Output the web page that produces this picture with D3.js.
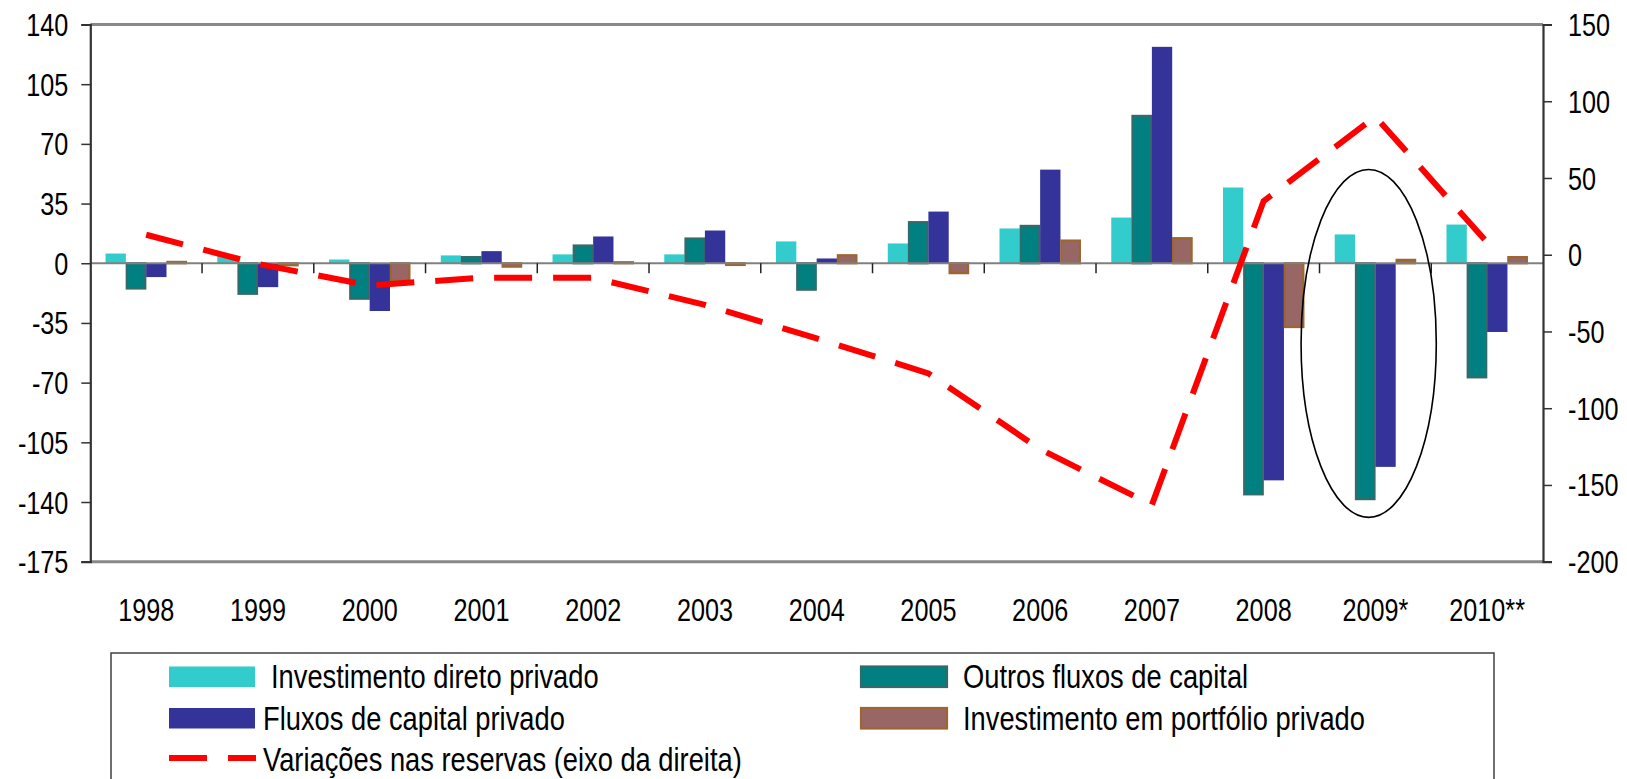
<!DOCTYPE html>
<html><head><meta charset="utf-8">
<script src="https://cdn.jsdelivr.net/npm/d3@7"></script>
<style>
html,body{margin:0;padding:0;background:#fff;}
svg text{font-family:"Liberation Sans",Arial,sans-serif;fill:#000;}
</style></head>
<body>
<svg id="chart" width="1627" height="779"></svg>
<script>
const categories = ["1998","1999","2000","2001","2002","2003","2004","2005","2006","2007","2008","2009*","2010**"];
const investimentoDireto = [5.7, 4.2, 2.2, 4.6, 5.2, 5.2, 12.8, 11.6, 20.4, 26.8, 44.4, 16.9, 22.7];
const outrosFluxos = [-14.8, -17.9, -20.8, 3.6, 10.4, 14.5, -15.5, 24.1, 21.9, 86.4, -135.5, -138.3, -66.9];
const fluxosPrivado = [-8.1, -14, -28, 7.1, 15.7, 19.2, 2.8, 30.3, 54.9, 126.9, -127.3, -119.4, -40.3];
const portfolioPrivado = [0.8, -1.2, -10.3, -2, 0.6, -1, 4.7, -5.8, 13.3, 14.7, -37.4, 2, 3.6];
const reservas = [13, -6, -20, -15, -15, -32.7, -54.5, -77.3, -126.7, -163, 35, 90, 8];
const leftTicks = [140, 105, 70, 35, 0, -35, -70, -105, -140, -175];
const rightTicks = [150, 100, 50, 0, -50, -100, -150, -200];
const seriesNames = ["Investimento direto privado","Outros fluxos de capital","Fluxos de capital privado","Investimento em portfólio privado","Variações nas reservas (eixo da direita)"];

const barSeries = [
  {name: seriesNames[0], values: investimentoDireto, fill: "#33CCCC", stroke: null},
  {name: seriesNames[1], values: outrosFluxos, fill: "#008080", stroke: "#336B6B"},
  {name: seriesNames[2], values: fluxosPrivado, fill: "#333399", stroke: null},
  {name: seriesNames[3], values: portfolioPrivado, fill: "#996666", stroke: "#9C6630"}
];

const svg = d3.select("#chart");
const L = 90.3, R = 1543, T = 24.5, B = 561.7;
const SX = 0.8;
const fmt = d => String(d);

const x = d3.scaleBand().domain(categories).range([L, R]).padding(0);
const yL = d3.scaleLinear().domain([-175, 140]).range([B, T]);
const yR = d3.scaleLinear().domain([-200, 150]).range([B, T]);
const bw = x.bandwidth();
const barW = bw / 5.5;
const off = (bw - 4 * barW) / 2;

// bars
barSeries.forEach((s, si) => {
  svg.append("g").selectAll("rect").data(s.values).join("rect")
    .attr("x", (d, i) => x(categories[i]) + off + si * barW + (s.stroke ? 0.9 : 0))
    .attr("width", barW - (s.stroke ? 1.8 : 0))
    .attr("y", d => Math.min(yL(d), yL(0)))
    .attr("height", d => Math.max(0.8, Math.abs(yL(d) - yL(0))))
    .attr("fill", s.fill)
    .attr("stroke", s.stroke || "none")
    .attr("stroke-width", s.stroke ? 2.2 : 0);
});

// zero line and category ticks
svg.append("line").attr("x1", L).attr("x2", R).attr("y1", yL(0)).attr("y2", yL(0))
  .attr("stroke", "#808080").attr("stroke-width", 2);
svg.append("g").selectAll("line").data(categories.slice(1)).join("line")
  .attr("x1", d => x(d)).attr("x2", d => x(d))
  .attr("y1", yL(0)).attr("y2", yL(0) + 10)
  .attr("stroke", "#222").attr("stroke-width", 1.5);

// top/bottom borders
[T, B].forEach(yy => svg.append("line").attr("x1", L).attr("x2", R).attr("y1", yy).attr("y2", yy)
  .attr("stroke", "#888").attr("stroke-width", 3));

// left axis
const gL = svg.append("g").attr("transform", `translate(${L},0)`)
  .call(d3.axisLeft(yL).tickValues(leftTicks).tickSize(9).tickFormat(fmt));
gL.select(".domain").attr("stroke", "#333").attr("stroke-width", 2.2);
gL.selectAll(".tick line").attr("stroke", "#333").attr("stroke-width", 1.5);
gL.selectAll(".tick text").attr("font-size", 31.5).attr("font-family", "Liberation Sans, Arial, sans-serif")
  .attr("x", -22 / SX).attr("dy", "0.35em").attr("transform", `scale(${SX},1)`);

// right axis
const gR = svg.append("g").attr("transform", `translate(${R},0)`)
  .call(d3.axisRight(yR).tickValues(rightTicks).tickSize(9).tickFormat(fmt));
gR.select(".domain").attr("stroke", "#333").attr("stroke-width", 2.2);
gR.selectAll(".tick line").attr("stroke", "#333").attr("stroke-width", 1.5);
gR.selectAll(".tick text").attr("font-size", 31.5).attr("font-family", "Liberation Sans, Arial, sans-serif")
  .attr("x", 25 / SX).attr("dy", "0.35em").attr("transform", `scale(${SX},1)`);

// category labels
svg.append("g").selectAll("text").data(categories).join("text")
  .attr("transform", d => `translate(${x(d) + bw / 2},621) scale(${SX},1)`)
  .attr("text-anchor", "middle").attr("font-size", 31.5).text(d => d);

// reserves line
const line = d3.line().x((d, i) => x(categories[i]) + bw / 2).y(d => yR(d));
svg.append("path").datum(reservas).attr("d", line)
  .attr("fill", "none").attr("stroke", "#FF0000").attr("stroke-width", 6)
  .attr("stroke-dasharray", "38,21").attr("stroke-linejoin", "miter");

// ellipse annotation around 2009*
svg.append("ellipse")
  .attr("cx", x("2009*") + bw * 0.44).attr("cy", yL(-47))
  .attr("rx", bw * 0.605).attr("ry", yL(-149) - yL(-47))
  .attr("fill", "none").attr("stroke", "#000").attr("stroke-width", 1.6);

// legend
const lg = svg.append("g");
lg.append("rect").attr("x", 111).attr("y", 653).attr("width", 1383).attr("height", 150)
  .attr("fill", "#fff").attr("stroke", "#404040").attr("stroke-width", 1.5);
const LSX = 0.84;
const legendItems = [
  {name: seriesNames[0], sx: 169, tx: 271, base: 688, type: "bar", s: barSeries[0]},
  {name: seriesNames[1], sx: 861, tx: 963, base: 688, type: "bar", s: barSeries[1]},
  {name: seriesNames[2], sx: 169, tx: 263, base: 729.5, type: "bar", s: barSeries[2]},
  {name: seriesNames[3], sx: 861, tx: 963, base: 729.5, type: "bar", s: barSeries[3]},
  {name: seriesNames[4], sx: 169, tx: 263, base: 771, type: "line"}
];
legendItems.forEach(it => {
  if (it.type === "bar") {
    lg.append("rect").attr("x", it.sx).attr("y", it.base - 21.5).attr("width", 86).attr("height", 20.5)
      .attr("fill", it.s.fill).attr("stroke", it.s.stroke || "none").attr("stroke-width", it.s.stroke ? 2.2 : 0);
  } else {
    lg.append("line").attr("x1", it.sx).attr("x2", it.sx + 87).attr("y1", it.base - 13).attr("y2", it.base - 13)
      .attr("stroke", "#FF0000").attr("stroke-width", 6).attr("stroke-dasharray", "38,21");
  }
  lg.append("text").attr("transform", `translate(${it.tx},${it.base}) scale(${LSX},1)`)
    .attr("font-size", 32.5).text(it.name);
});
</script>
</body></html>
